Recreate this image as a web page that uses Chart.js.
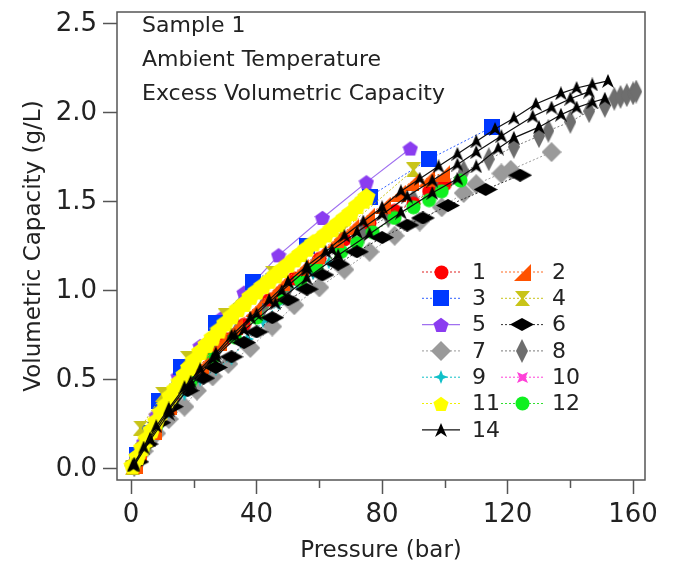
<!DOCTYPE html>
<html>
<head>
<meta charset="utf-8">
<script src="https://cdn.jsdelivr.net/npm/chart.js@4.4.1/dist/chart.umd.min.js"></script>
<style>
  html, body { margin: 0; padding: 0; background: #fff; }
  #wrap { width: 674px; height: 571px; }
</style>
</head>
<body>
<div id="wrap"><canvas id="myChart" width="674" height="571"></canvas></div>
<script>
// Tick labels
const xTicks = [0, 40, 80, 120, 160];
const xMinor = [20, 60, 100, 140];
const yTicks = [0, 0.5, 1.0, 1.5, 2.0, 2.5];

// Text in the plot
const notes = ['Sample 1', 'Ambient Temperature', 'Excess Volumetric Capacity'];
const legendOrder = ['1', '2', '3', '4', '5', '6', '7', '8', '9', '10', '11', '12', '14'];

// Series values (pressure in bar, capacity in g/L)
const p1 = [1, 4, 8, 13, 19, 25, 30, 36, 44, 52, 60, 68, 76, 84, 90, 95, 100];
const v1 = [0.02, 0.12, 0.25, 0.38, 0.52, 0.64, 0.73, 0.81, 0.95, 1.07, 1.18, 1.29, 1.38, 1.45, 1.49, 1.56, 1.60];

const p2 = [1, 2.5, 7, 12, 17, 22, 28, 33, 39, 44, 48, 54, 59, 65, 70, 75, 80, 85, 89, 94, 99];
const v2 = [0.02, 0.09, 0.21, 0.35, 0.47, 0.58, 0.71, 0.80, 0.90, 0.98, 1.05, 1.13, 1.20, 1.29, 1.36, 1.42, 1.48, 1.55, 1.61, 1.63, 1.66];

const p3 = [2, 5, 9, 16, 27, 39, 56, 76, 95, 115];
const v3 = [0.08, 0.20, 0.38, 0.57, 0.82, 1.05, 1.25, 1.53, 1.74, 1.92];

const p4 = [0.5, 3, 10, 18, 30, 45, 67, 90];
const v4 = [0.01, 0.23, 0.42, 0.62, 0.86, 1.10, 1.33, 1.68];

const p5 = [1, 4, 8, 15, 22, 29, 36, 47, 61, 75, 89];
const v5 = [0.03, 0.15, 0.30, 0.52, 0.69, 0.85, 0.99, 1.20, 1.41, 1.61, 1.80];

const p6 = [2, 5, 9, 13, 18, 23, 27, 32, 36, 40, 45, 50, 56, 61, 66, 72, 80, 88, 93, 101, 113, 124];
const v6 = [0.04, 0.14, 0.26, 0.35, 0.44, 0.51, 0.57, 0.63, 0.71, 0.77, 0.85, 0.95, 1.01, 1.09, 1.15, 1.22, 1.30, 1.37, 1.41, 1.48, 1.57, 1.65];

const p7 = [1, 4, 8, 12, 17, 21, 26, 31, 38, 45, 52, 60, 68, 76, 84, 92, 99, 106, 110, 118, 121, 134];
const v7 = [0.02, 0.10, 0.20, 0.28, 0.35, 0.44, 0.52, 0.59, 0.68, 0.80, 0.92, 1.02, 1.12, 1.22, 1.31, 1.39, 1.47, 1.55, 1.60, 1.66, 1.68, 1.78];

const p8 = [1, 5, 10, 15, 20, 27, 34, 42, 50, 58, 66, 74, 82, 90, 98, 106, 114, 122, 130, 133, 140, 146, 151, 154, 156, 158, 160, 161];
const v8 = [0.02, 0.15, 0.30, 0.42, 0.53, 0.66, 0.78, 0.91, 1.02, 1.13, 1.23, 1.33, 1.42, 1.51, 1.59, 1.67, 1.74, 1.81, 1.87, 1.90, 1.95, 2.01, 2.04, 2.08, 2.09, 2.10, 2.11, 2.12];

const p9 = [1, 4, 8, 12, 17, 22, 27, 32, 37, 42, 47, 53, 58, 63];
const v9 = [0.02, 0.11, 0.22, 0.32, 0.42, 0.50, 0.56, 0.62, 0.73, 0.83, 0.93, 1.04, 1.10, 1.16];

const p10 = [1, 3, 6, 9, 12, 15, 18, 21, 24, 27];
const v10 = [0.03, 0.10, 0.20, 0.30, 0.38, 0.46, 0.54, 0.60, 0.66, 0.72];

const p11 = [0.5, 2, 3.5, 5, 6.5, 8, 9.5, 11, 12.5, 14, 15.5, 17, 18.5, 20, 22, 24, 26, 28, 30, 32, 34, 36, 38, 40, 42, 44, 46, 48, 50, 52, 54, 56, 58, 60, 62, 64, 66, 68, 70, 72, 74, 75];
const v11 = [0.02, 0.07, 0.12, 0.17, 0.22, 0.27, 0.32, 0.36, 0.41, 0.45, 0.49, 0.53, 0.57, 0.61, 0.66, 0.70, 0.74, 0.78, 0.82, 0.86, 0.90, 0.93, 0.97, 1.00, 1.03, 1.06, 1.09, 1.12, 1.15, 1.18, 1.21, 1.24, 1.27, 1.29, 1.32, 1.35, 1.38, 1.41, 1.44, 1.48, 1.51, 1.53];

const p12 = [1, 4, 8, 13, 19, 26, 33, 40, 47, 54, 59, 67, 72, 77, 84, 90, 95, 99, 105];
const v12 = [0.02, 0.12, 0.24, 0.36, 0.49, 0.62, 0.74, 0.85, 0.96, 1.06, 1.13, 1.22, 1.27, 1.33, 1.41, 1.47, 1.51, 1.56, 1.62];

// sample 14 was measured three times
const p14a = [0.5, 4, 8, 12, 17, 22, 27, 32, 38, 44, 50, 56, 62, 68, 74, 80, 86, 92, 98, 104, 110, 116, 122, 129, 137, 142, 147, 152];
const v14a = [0.02, 0.12, 0.24, 0.34, 0.46, 0.56, 0.65, 0.75, 0.85, 0.95, 1.05, 1.14, 1.22, 1.31, 1.39, 1.47, 1.56, 1.63, 1.70, 1.77, 1.84, 1.91, 1.97, 2.05, 2.11, 2.14, 2.16, 2.18];
const p14b = [1, 6, 12, 19, 26, 33, 40, 48, 56, 64, 72, 80, 88, 96, 104, 110, 118, 128, 134, 140, 146];
const v14b = [0.03, 0.17, 0.33, 0.49, 0.62, 0.75, 0.87, 1.00, 1.12, 1.23, 1.33, 1.43, 1.53, 1.62, 1.71, 1.78, 1.87, 1.98, 2.03, 2.08, 2.12];
const p14c = [1, 6, 12, 19, 27, 36, 46, 56, 66, 76, 86, 96, 104, 110, 117, 122, 130, 137, 142, 147, 151];
const v14c = [0.02, 0.16, 0.31, 0.47, 0.63, 0.78, 0.93, 1.07, 1.20, 1.32, 1.44, 1.55, 1.63, 1.70, 1.80, 1.86, 1.92, 1.99, 2.03, 2.06, 2.08];

// Marker shapes drawn on small canvases
function marker(shape, color, w, h) {
    const c = document.createElement('canvas');
    c.width = w; c.height = h;
    const g = c.getContext('2d');
    g.fillStyle = color;
    g.beginPath();
    if (shape === 'circle') {
        g.arc(w / 2, h / 2, w / 2 - 0.5, 0, Math.PI * 2);
    } else if (shape === 'square') {
        g.rect(0, 0, w, h);
    } else if (shape === 'rtri') {
        g.moveTo(w, 0); g.lineTo(w, h); g.lineTo(0, h);
    } else if (shape === 'hourglass') {
        g.moveTo(0, 0); g.lineTo(w, 0); g.lineTo(w * 0.58, h / 2);
        g.lineTo(w, h); g.lineTo(0, h); g.lineTo(w * 0.42, h / 2);
    } else if (shape === 'pentagon') {
        for (let i = 0; i < 5; i++) {
            const a = -Math.PI / 2 + i * 2 * Math.PI / 5;
            const px = w / 2 + (w / 2) * Math.cos(a), py = h * 0.54 + (h / 2) * Math.sin(a);
            if (i === 0) g.moveTo(px, py); else g.lineTo(px, py);
        }
    } else if (shape === 'diamond') {
        g.moveTo(w / 2, 0); g.lineTo(w, h / 2); g.lineTo(w / 2, h); g.lineTo(0, h / 2);
    } else if (shape === 'star4') {
        g.moveTo(w / 2, 0); g.lineTo(w * 0.64, h * 0.36); g.lineTo(w, h / 2); g.lineTo(w * 0.64, h * 0.64);
        g.lineTo(w / 2, h); g.lineTo(w * 0.36, h * 0.64); g.lineTo(0, h / 2); g.lineTo(w * 0.36, h * 0.36);
    } else if (shape === 'pinched') {
        g.moveTo(0, 0); g.lineTo(w / 2, h * 0.22); g.lineTo(w, 0); g.lineTo(w * 0.78, h / 2);
        g.lineTo(w, h); g.lineTo(w / 2, h * 0.78); g.lineTo(0, h); g.lineTo(w * 0.22, h / 2);
    } else if (shape === 'arrow') {
        g.moveTo(w / 2, 0); g.lineTo(w, h); g.lineTo(w / 2, h * 0.72); g.lineTo(0, h);
    }
    g.closePath();
    g.fill();
    return c;
}

function pts(xs, ys) {
    return xs.map((x, i) => ({ x: x, y: ys[i] }));
}

function series(label, xs, ys, color, lineColor, dashed, shape, w, h, order) {
    return {
        label: label,
        data: pts(xs, ys),
        showLine: true,
        borderColor: lineColor,
        borderWidth: dashed ? 1 : 1.2,
        borderDash: dashed ? [2, 2] : [],
        pointStyle: marker(shape, color, w, h),
        legendMark: marker(shape, color, Math.min(w, 24), Math.min(h, 24)),
        pointRadius: 4,
        order: order,
        inLegend: true
    };
}

const datasets = [
    series('1', p1, v1, '#ff0000', '#e02020', true, 'circle', 15, 15, 6),
    series('2', p2, v2, '#ff5200', '#ff6a20', true, 'rtri', 17, 17, 4),
    series('3', p3, v3, '#0038ff', '#3060ff', true, 'square', 16, 16, 10),
    series('4', p4, v4, '#c8c418', '#c8c418', true, 'hourglass', 15, 15, 9),
    series('5', p5, v5, '#8a3cf0', '#a070f0', false, 'pentagon', 16, 16, 11),
    series('6', p6, v6, '#000000', '#333333', true, 'diamond', 24, 13, 3),
    series('7', p7, v7, '#9a9a9a', '#9a9a9a', true, 'diamond', 20, 20, 12),
    series('8', p8, v8, '#6e6e6e', '#7a7a7a', true, 'diamond', 12, 24, 13),
    series('9', p9, v9, '#10c0c8', '#10c0c8', true, 'star4', 14, 14, 7),
    series('10', p10, v10, '#ff40d8', '#ff40d8', true, 'pinched', 11, 11, 8),
    series('11', p11, v11, '#ffff00', '#f0f000', true, 'pentagon', 19, 19, 2),
    series('12', p12, v12, '#10f020', '#30e030', true, 'circle', 15, 15, 5),
    series('14', p14a, v14a, '#000000', '#111111', false, 'arrow', 12, 14, 1)
];
// the legend shows a smaller yellow marker than the dense band uses
datasets[10].legendMark = marker('pentagon', '#ffff00', 16, 16);
// the two other runs of sample 14 share its style but not the legend
const extra14b = series('14', p14b, v14b, '#000000', '#111111', false, 'arrow', 12, 14, 1);
const extra14c = series('14', p14c, v14c, '#000000', '#111111', false, 'arrow', 12, 14, 1);
extra14b.inLegend = false;
extra14c.inLegend = false;
datasets.push(extra14b, extra14c);

const FONT = '"DejaVu Sans", sans-serif';
const INK = '#222222';
const AXIS = '#555555';

// Frame, minor ticks, notes and legend drawn on top of the chart
const decorPlugin = {
    id: 'decor',
    afterDraw(chart) {
        const ctx = chart.ctx;
        const a = chart.chartArea;
        const xs = chart.scales.x;
        ctx.save();
        ctx.strokeStyle = AXIS;
        ctx.lineWidth = 1.5;
        ctx.strokeRect(a.left, a.top, a.right - a.left, a.bottom - a.top);
        // minor x ticks
        xMinor.forEach(v => {
            const px = Math.round(xs.getPixelForValue(v)) + 0.5;
            ctx.beginPath();
            ctx.moveTo(px, a.bottom);
            ctx.lineTo(px, a.bottom + 8);
            ctx.stroke();
        });
        // notes in the top left corner
        ctx.fillStyle = INK;
        ctx.font = '22px ' + FONT;
        ctx.textBaseline = 'middle';
        ctx.textAlign = 'left';
        notes.forEach((t, i) => ctx.fillText(t, a.left + 25, a.top + 14 + i * 34));
        // legend, two columns
        const sets = chart.data.datasets.filter(d => d.inLegend);
        legendOrder.forEach((name, i) => {
            const d = sets.find(s => s.label === name);
            const col = i % 2, row = Math.floor(i / 2);
            const x0 = col === 0 ? 422 : 501;
            const lineW = col === 0 ? 38 : 42;
            const y = 272 + row * 26.3;
            ctx.strokeStyle = d.borderColor;
            ctx.lineWidth = d.borderWidth;
            ctx.setLineDash(d.borderDash);
            ctx.beginPath();
            ctx.moveTo(x0, y);
            ctx.lineTo(x0 + lineW, y);
            ctx.stroke();
            ctx.setLineDash([]);
            const m = d.legendMark;
            ctx.drawImage(m, Math.round(x0 + lineW / 2 - m.width / 2), Math.round(y - m.height / 2));
            ctx.fillStyle = INK;
            ctx.font = '22px ' + FONT;
            ctx.fillText(name, col === 0 ? 472 : 552, y + 1);
        });
        ctx.restore();
    }
};

const ctx = document.getElementById('myChart').getContext('2d');

const myChart = new Chart(ctx, {
    type: 'scatter',
    data: { datasets: datasets },
    plugins: [decorPlugin],
    options: {
        responsive: false,
        animation: false,
        layout: { padding: { left: 0, right: 29, top: 12, bottom: 0 } },
        plugins: {
            legend: { display: false },
            tooltip: { enabled: false }
        },
        scales: {
            x: {
                type: 'linear',
                min: -4.5,
                max: 163.8,
                afterBuildTicks: s => { s.ticks = xTicks.map(v => ({ value: v })); },
                afterFit: s => { s.height = 91; s.paddingLeft = 0; s.paddingRight = 0; },
                border: { display: false },
                grid: { drawOnChartArea: false, drawTicks: true, tickLength: 14, tickColor: AXIS, tickWidth: 1.5 },
                ticks: { color: INK, font: { family: FONT, size: 26 }, padding: 6, maxRotation: 0, autoSkip: false },
                title: { display: true, text: 'Pressure (bar)', color: INK, font: { family: FONT, size: 23 }, padding: { top: 2, bottom: 6 } }
            },
            y: {
                type: 'linear',
                min: -0.062,
                max: 2.567,
                afterBuildTicks: s => { s.ticks = yTicks.map(v => ({ value: v })); },
                afterFit: s => { s.width = 117; s.paddingTop = 0; s.paddingBottom = 0; },
                border: { display: false },
                grid: { drawOnChartArea: false, drawTicks: true, tickLength: 14, tickColor: AXIS, tickWidth: 1.5 },
                ticks: { color: INK, font: { family: FONT, size: 26 }, padding: 6, callback: v => v.toFixed(1), autoSkip: false },
                title: { display: true, text: 'Volumetric Capacity (g/L)', color: INK, font: { family: FONT, size: 23 }, padding: { top: 20, bottom: 0 } }
            }
        }
    }
});
</script>
</body>
</html>
